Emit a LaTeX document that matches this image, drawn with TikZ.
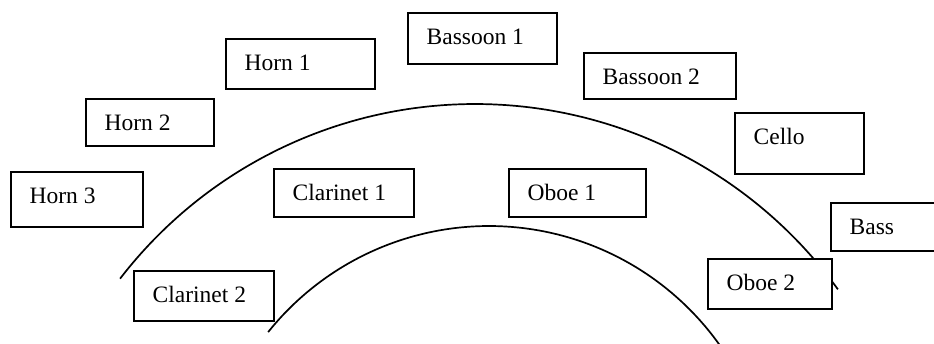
\documentclass[tikz,border=0pt]{standalone}
\usepackage{fontspec}
\setmainfont{Liberation Serif}
% one seat: name, left, top, right, bottom, caption
\newcommand\seatbox[6]{%
  \node[seat, minimum width={#4-#2}, minimum height={#5-#3}] (#1) at (#2,#3) {};
  \node[seatlabel] (#1-t) at ([xshift=19.5pt, yshift=-32pt]#1.north west) {#6};
}
\begin{document}
\begin{tikzpicture}[x=1pt, y=-1pt,
  seat/.style={draw, fill=white, line width=1.8pt, rectangle, inner sep=0pt, anchor=north west},
  seatlabel/.style={anchor=base west, inner sep=0pt, font=\fontsize{23.5}{28}\selectfont},
  rim/.style={line width=1.7pt}]
\useasboundingbox (0,0) rectangle (934,343);
\clip (0,0) rectangle (934,343);

% the two rows of the seating arc
\draw[rim] plot[domain=142.4:35.9, samples=150] ({475+448*cos(\x)}, {552-448*sin(\x)});
\draw[rim] plot[domain=141.3:35.6, samples=150] ({489+283*cos(\x)}, {509-283*sin(\x)});

% seats
\seatbox{bsn1}{407}{12}{556}{63}{Bassoon 1}
\seatbox{hrn1}{225}{38}{374}{88}{Horn 1}
\seatbox{bsn2}{583}{52}{735}{98}{Bassoon 2}
\seatbox{hrn2}{85}{98}{213}{145}{Horn 2}
\seatbox{vc}{734}{112}{863}{173}{Cello}
\seatbox{hrn3}{10}{171}{142}{226}{Horn 3}
\seatbox{cl1}{273}{168}{413}{216}{Clarinet 1}
\seatbox{ob1}{508}{168}{645}{216}{Oboe 1}
\seatbox{cb}{830}{202}{950}{250}{Bass}
\seatbox{ob2}{707}{258}{831}{308}{Oboe 2}
\seatbox{cl2}{133}{270}{273}{320}{Clarinet 2}
\end{tikzpicture}
\end{document}
